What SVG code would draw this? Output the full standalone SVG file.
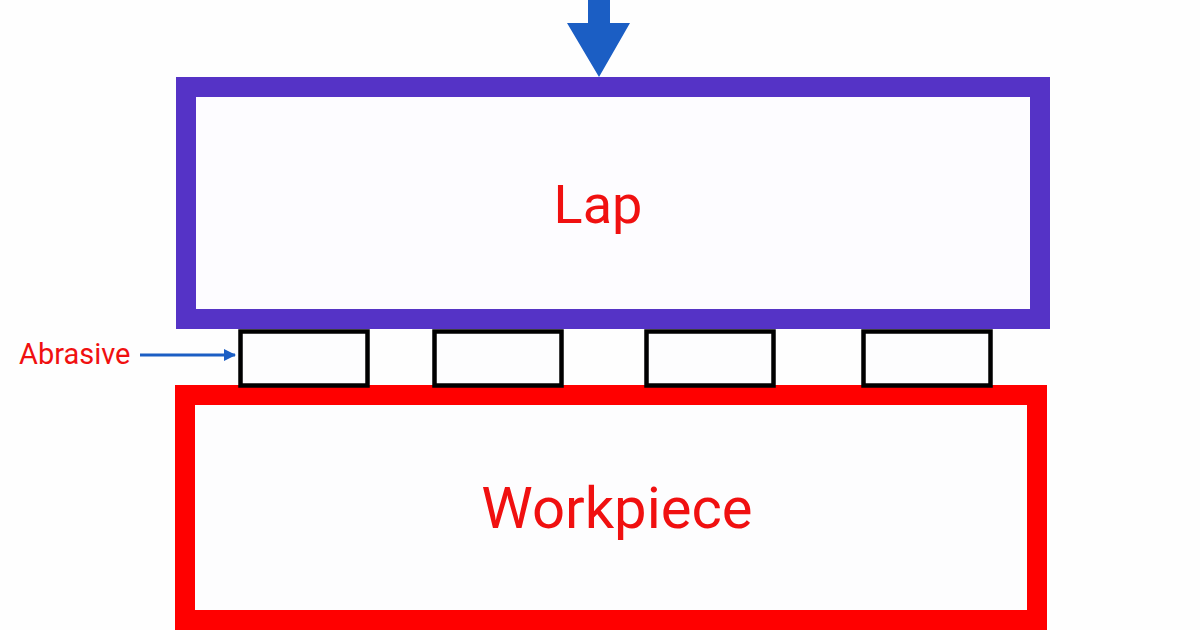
<svg xmlns="http://www.w3.org/2000/svg" width="1200" height="630" viewBox="0 0 1200 630">
<style>
.lbl{font-family:Roboto,"Liberation Sans",sans-serif;fill:#f01010}
.abr{fill:#fdfdfe;stroke:#000;stroke-width:4.5}
</style>
<defs>
<marker id="ah" markerWidth="12" markerHeight="12" refX="11" refY="6" orient="auto" markerUnits="userSpaceOnUse">
<path d="M0,0 L12,6 L0,12 z" fill="#1b5ec4"/>
</marker>
</defs>
<rect width="1200" height="630" fill="#fefefe"/>
<g id="lap">
<rect x="186" y="87" width="854" height="232" fill="#fdfcff" stroke="#5533c6" stroke-width="20"/>
<text class="lbl" x="598" y="223" font-size="54" text-anchor="middle">Lap</text>
</g>
<g id="workpiece">
<rect x="185" y="395" width="852" height="225" fill="#fdfdfe" stroke="#ff0000" stroke-width="20"/>
<text class="lbl" x="617" y="528" font-size="58" text-anchor="middle">Workpiece</text>
</g>
<g id="abrasive1"><rect class="abr" x="240.5" y="331.5" width="127" height="54"/></g>
<g id="abrasive2"><rect class="abr" x="434.5" y="331.5" width="127" height="54"/></g>
<g id="abrasive3"><rect class="abr" x="646.5" y="331.5" width="127" height="54"/></g>
<g id="abrasive4"><rect class="abr" x="863.5" y="331.5" width="127" height="54"/></g>
<g id="abrasive-label">
<text class="lbl" x="19" y="364" font-size="29">Abrasive</text>
</g>
<g id="connectors">
<line x1="140" y1="355" x2="235" y2="355" stroke="#1b5ec4" stroke-width="3" marker-end="url(#ah)"/>
<path d="M588,0 H610 V23 H630 L599,77 L567,23 H588 Z" fill="#1b5ec4"/>
</g>
</svg>
